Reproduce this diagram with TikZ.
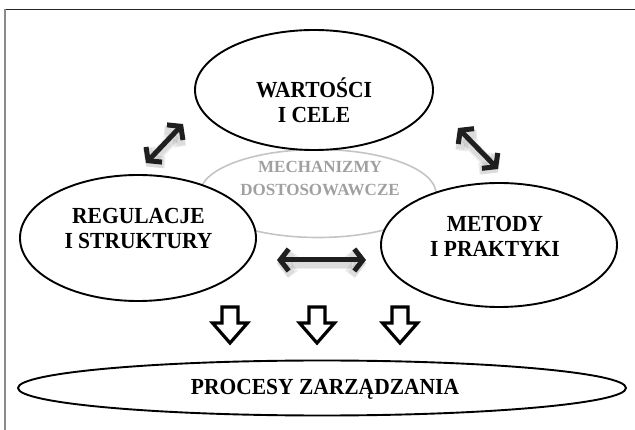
\documentclass[tikz,border=0pt]{standalone}
\usepackage{graphicx}
\usepackage{fontspec}
\setmainfont{Liberation Serif}
\usetikzlibrary{arrows.meta,shapes.geometric}

\definecolor{mechgray}{HTML}{A0A0A0}
\definecolor{mechline}{HTML}{C4C4C4}
\definecolor{framegray}{HTML}{8A8A8A}

% slightly tall capitals for the labels
\newcommand\tallcaps[1]{\scalebox{1}[1.07]{#1}}

\tikzset{
  oval/.style={ellipse, draw=black, line width=1.9pt, fill=white, inner sep=0pt},
  softoval/.style={ellipse, draw=mechline, line width=1.6pt, inner sep=0pt},
  lbl/.style={anchor=base, inner sep=0pt, font=\bfseries\fontsize{21.5}{25}\selectfont},
  softlbl/.style={anchor=base, inner sep=0pt, text=mechgray, font=\bfseries\fontsize{17}{22}\selectfont},
  twoway/.style={line width=5pt, draw=black!88,
    {Straight Barb[length=8.5pt,width=22pt]}-{Straight Barb[length=8.5pt,width=22pt]}},
  twowayshadow/.style={draw=black, opacity=0.07, transform canvas={yshift=-3.5pt},
    {Straight Barb[length=8.5pt,width=22pt]}-{Straight Barb[length=8.5pt,width=22pt]}},
  downarrow/.pic={
    \draw[line width=3.2pt, line join=miter, fill=white]
      (-8,0) -- (8,0) -- (8,16) -- (17.5,16) -- (0,36) -- (-17.5,16) -- (-8,16) -- cycle;
  }
}

% double-headed arrow with a soft drop shadow
\newcommand\bothways[2]{%
  \draw[twowayshadow, line width=12pt] (#1) -- (#2);
  \draw[twowayshadow, line width=9pt] (#1) -- (#2);
  \draw[twoway] (#1) -- (#2);
}

\begin{document}
\begin{tikzpicture}[x=1pt, y=-1pt]
\useasboundingbox (0,0) rectangle (635,430);

% frame
\draw[black!85, line width=1.2pt] (5,9.5) -- (640,9.5);
\draw[framegray, line width=1.6pt] (5,9.5) -- (5,435);

% adaptive mechanisms in the middle (drawn first, partly covered)
\node[softoval, minimum width=236pt, minimum height=88pt] (mech) at (318,193.5) {};
\node[softlbl] (mech1) at (320,173) {MECHANIZMY};
\node[softlbl] (mech2) at (320,195.5) {DOSTOSOWAWCZE};

% the three main areas
\node[oval, minimum width=238pt, minimum height=120pt] (goals) at (314,90) {};
\node[lbl] (goals1) at (314,98) {\tallcaps{WARTOŚCI}};
\node[lbl] (goals2) at (314,123) {\tallcaps{I CELE}};

\node[oval, minimum width=236pt, minimum height=126pt] (rules) at (138,238) {};
\node[lbl] (rules1) at (138.5,224) {\tallcaps{REGULACJE}};
\node[lbl] (rules2) at (138.5,249) {\tallcaps{I STRUKTURY}};

\node[oval, minimum width=236pt, minimum height=124pt] (methods) at (499,245) {};
\node[lbl] (methods1) at (495,232) {\tallcaps{METODY}};
\node[lbl] (methods2) at (495,257) {\tallcaps{I PRAKTYKI}};

% management processes
\node[oval, minimum width=608pt, minimum height=55pt] (proc) at (322,388) {};
\node[lbl] (proc1) at (325,395) {\tallcaps{PROCESY ZARZĄDZANIA}};

% mutual links
\coordinate (la) at (146,163);
\coordinate (lb) at (183,124);
\coordinate (ra) at (458,128);
\coordinate (rb) at (498,169);
\coordinate (ha) at (277,260);
\coordinate (hb) at (366,260);
\bothways{la}{lb}
\bothways{ra}{rb}
\bothways{ha}{hb}

% flow down into the processes
\pic at (230,307) {downarrow};
\pic at (317,307) {downarrow};
\pic at (400,307) {downarrow};
\end{tikzpicture}
\end{document}
